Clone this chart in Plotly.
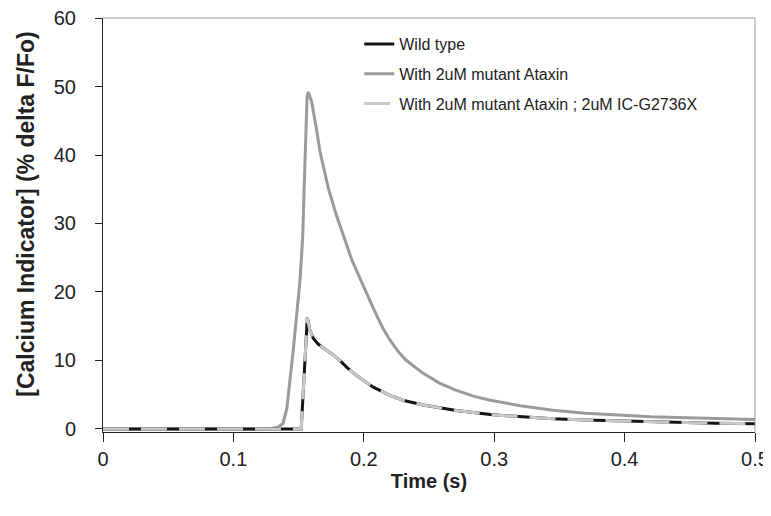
import plotly.graph_objects as go

# ---- data ----
t_wt = [0, 0.152, 0.1567, 0.1585, 0.1613, 0.165, 0.1715, 0.176, 0.1817, 0.187, 0.1945,
        0.2073, 0.220, 0.230, 0.2456, 0.260, 0.271, 0.297, 0.320, 0.345, 0.370, 0.396,
        0.420, 0.4476, 0.470, 0.5]
v_wt = [0, 0, 16.3, 14.5, 13.2, 12.4, 11.5, 10.9, 10.0, 9.0, 7.8,
        6.1, 4.9, 4.2, 3.5, 3.0, 2.7, 2.1, 1.8, 1.5, 1.3, 1.17,
        1.02, 0.9, 0.83, 0.77]

t_mut = [0, 0.128, 0.1345, 0.138, 0.141, 0.146, 0.151, 0.1531, 0.1544, 0.1565, 0.1574,
         0.160, 0.1635, 0.1664, 0.170, 0.173, 0.179, 0.186, 0.191, 0.198, 0.202, 0.206,
         0.210, 0.215, 0.220, 0.226, 0.232, 0.245, 0.258, 0.270, 0.284, 0.297, 0.320,
         0.345, 0.370, 0.396, 0.420, 0.4476, 0.475, 0.5]
v_mut = [0, 0, 0.3, 0.8, 3, 11.7, 21.5, 27.8, 36, 48.5, 49.2,
         47.8, 44, 40.5, 37.5, 35, 31.2, 27.2, 24.6, 21.6, 20, 18.2,
         16.5, 14.6, 13, 11.4, 10.1, 8.2, 6.7, 5.7, 4.8, 4.2, 3.4,
         2.75, 2.3, 2.0, 1.8, 1.65, 1.5, 1.4]

t_ic = [0, 0.152, 0.1567, 0.1585, 0.1613, 0.165, 0.1715, 0.176, 0.1817, 0.187, 0.1945,
        0.2073, 0.220, 0.230, 0.2456, 0.260, 0.271, 0.297, 0.320, 0.345, 0.370, 0.396,
        0.420, 0.4476, 0.470, 0.5]
v_ic = [0, 0, 16.3, 14.5, 13.2, 12.4, 11.5, 10.9, 10.0, 9.0, 7.8,
        6.1, 4.9, 4.2, 3.5, 3.0, 2.7, 2.1, 1.8, 1.5, 1.3, 1.17,
        1.02, 0.9, 0.83, 0.77]

names = ["Wild type", "With 2uM mutant Ataxin", "With 2uM mutant Ataxin ; 2uM IC-G2736X"]
x_ticks = [0, 0.1, 0.2, 0.3, 0.4, 0.5]
x_tick_labels = ["0", "0.1", "0.2", "0.3", "0.4", "0.5"]
y_ticks = [0, 10, 20, 30, 40, 50, 60]

fig = go.Figure()
fig.add_trace(go.Scatter(x=t_mut, y=v_mut, mode="lines", name=names[1],
                         line=dict(color="#9a9a9a", width=3), legendrank=2,
                         legendgroup="b"))
fig.add_trace(go.Scatter(x=t_wt, y=v_wt, mode="lines", name=names[0],
                         line=dict(color="#151515", width=3), legendrank=1,
                         legendgroup="a"))
fig.add_trace(go.Scatter(x=t_ic, y=v_ic, mode="lines", name=names[2],
                         line=dict(color="#c8c8c8", width=3, dash="26px,12px"),
                         legendrank=3, legendgroup="c"))

fig.update_layout(
    width=763, height=509,
    margin=dict(l=95, r=16, t=10, b=85),
    paper_bgcolor="white", plot_bgcolor="white",
    font=dict(family="Liberation Sans, Arial, sans-serif", color="#222222"),
    showlegend=True,
    legend=dict(x=0.393, y=0.978, xanchor="left", yanchor="top",
                font=dict(size=16, color="#222222"), bgcolor="rgba(0,0,0,0)",
                traceorder="grouped", tracegroupgap=6),
    xaxis=dict(range=[0, 0.5], tickvals=x_ticks, ticktext=x_tick_labels,
               showgrid=False, zeroline=False, showline=True, linecolor="#222222",
               linewidth=1, ticks="outside", ticklen=9, tickcolor="#222222",
               tickfont=dict(size=20, color="#222222"), automargin=False,
               ticklabeloverflow="allow",
               title=dict(text="<b>Time (s)</b>", font=dict(size=20, color="#222222"),
                          standoff=4)),
    yaxis=dict(range=[-0.44, 60], tickvals=y_ticks, showgrid=False, zeroline=False,
               showline=True, linecolor="#222222", linewidth=1, ticks="outside",
               ticklen=7, tickcolor="#222222", ticklabelstandoff=15, automargin=False,
               ticklabeloverflow="allow",
               tickfont=dict(size=20, color="#222222")),
    annotations=[dict(text="<b>[Calcium Indicator] (% delta F/Fo)</b>", textangle=-90,
                      xref="paper", yref="paper", x=-0.118, y=0.525,
                      xanchor="center", yanchor="middle", showarrow=False,
                      font=dict(size=23, color="#222222"))],
    shapes=[dict(type="line", xref="paper", yref="paper", x0=0, x1=1, y0=1, y1=1,
                 line=dict(color="#999999", width=1)),
            dict(type="line", xref="paper", yref="paper", x0=1, x1=1, y0=0, y1=1,
                 line=dict(color="#999999", width=1))],
)

fig.write_html("out.html")
